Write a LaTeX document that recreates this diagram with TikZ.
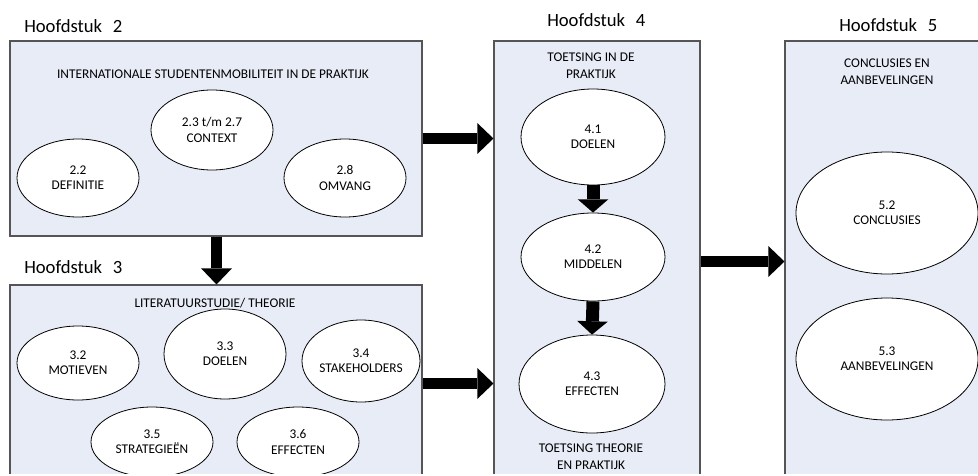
\documentclass[tikz,border=0pt]{standalone}
\usepackage{fontspec}
\setmainfont{Carlito}
\usetikzlibrary{shapes.geometric,arrows.meta,fit}
\definecolor{boxfill}{RGB}{232,236,247}
\definecolor{boxline}{RGB}{85,85,85}
\begin{document}
\begin{tikzpicture}[x=0.75pt,y=-0.75pt,
  chapbox/.style={draw=boxline,line width=0.8pt,fill=boxfill,inner sep=0pt},
  ell/.style n args={2}{ellipse,draw=black,line width=0.6pt,fill=white,inner sep=0pt,
    minimum width=#1*1.5pt,minimum height=#2*1.5pt,align=center,
    font=\fontsize{10}{11.5}\selectfont},
  ttl/.style={align=center,inner sep=0pt,font=\fontsize{10}{12.8}\selectfont},
  chap/.style={anchor=base west,inner sep=0pt,font=\fontsize{14}{16}\selectfont},
  bigarrow/.style={line width=8.25pt,-{Triangle[length=12pt,width=23pt,line width=0pt]}},
  smallarrow/.style={line width=9.75pt,-{Triangle[length=10pt,width=23pt,line width=0pt]}}]
\useasboundingbox (0,0) rectangle (978,475);
\clip (0,0) rectangle (978,473);
% chapter boxes
\node[chapbox,fit={(10,41) (422,236)}] (b2) {};
\node[chapbox,fit={(10,285) (422,520)}] (b3) {};
\node[chapbox,fit={(494,41) (700,520)}] (b4) {};
\node[chapbox,fit={(785,41) (1000,520)}] (b5) {};
% chapter labels
\node[chap] (h2) at (24,32) {Hoofdstuk\hskip 8pt 2};
\node[chap] (h3) at (24,273) {Hoofdstuk\hskip 8pt 3};
\node[chap] (h4) at (547,26) {Hoofdstuk\hskip 8pt 4};
\node[chap] (h5) at (839,31) {Hoofdstuk\hskip 8pt 5};
% titles
\node[ttl] (t2) at (213,74) {INTERNATIONALE STUDENTENMOBILITEIT IN DE PRAKTIJK};
\node[ttl] (t3) at (215,303) {LITERATUURSTUDIE/ THEORIE};
\node[ttl] (t4) at (591,66) {TOETSING IN DE\\PRAKTIJK};
\node[ttl] (t4b) at (591,457) {TOETSING THEORIE\\EN PRAKTIJK};
\node[ttl] (t5) at (887,72) {CONCLUSIES EN\\AANBEVELINGEN};
% ellipses chapter 2
\node[ell={61}{39}] (e22) at (78,178) {2.2\\DEFINITIE};
\node[ell={61}{40}] (e27) at (212,130) {2.3 t/m 2.7\\CONTEXT};
\node[ell={61}{39}] (e28) at (345,178) {2.8\\OMVANG};
% ellipses chapter 3
\node[ell={61}{37}] (e32) at (78,363) {3.2\\MOTIEVEN};
\node[ell={61}{45}] (e33) at (225,354) {3.3\\DOELEN};
\node[ell={59}{41}] (e34) at (361,361) {3.4\\STAKEHOLDERS};
\node[ell={61}{35}] (e35) at (152,442) {3.5\\STRATEGIEËN};
\node[ell={61}{35}] (e36) at (298,442) {3.6\\EFFECTEN};
% ellipses chapter 4
\node[ell={72}{48}] (e41) at (593,137) {4.1\\DOELEN};
\node[ell={72}{44}] (e42) at (593,257) {4.2\\MIDDELEN};
\node[ell={73}{49}] (e43) at (592,384) {4.3\\EFFECTEN};
% ellipses chapter 5
\node[ell={91}{61}] (e52) at (887,213) {5.2\\CONCLUSIES};
\node[ell={91}{61}] (e53) at (887,359) {5.3\\AANBEVELINGEN};
% connectors
\coordinate (a23) at (216.5,260);
\coordinate (a24) at (458,138.5);
\coordinate (a34) at (458,383.5);
\coordinate (a45) at (743,261.5);
\draw[bigarrow] (b2.south -| a23) -- (b3.north -| a23);
\draw[bigarrow] (b2.east |- a24) -- (b4.west |- a24);
\draw[bigarrow] (b3.east |- a34) -- (b4.west |- a34);
\draw[bigarrow] (b4.east |- a45) -- (b5.west |- a45);
\draw[smallarrow] (e41.south) -- (e42.north);
\draw[smallarrow] (e42.south) -- (e43.north);
\end{tikzpicture}
\end{document}
